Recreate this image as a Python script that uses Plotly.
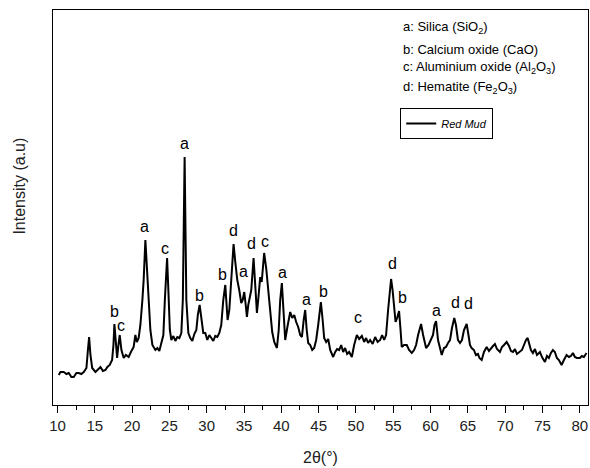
import plotly.graph_objects as go

# 2-theta positions (degrees)
two_theta = [10.17, 10.4, 10.84, 11.2, 11.51, 11.87, 12.18, 12.54, 12.85, 13.2, 13.52, 13.88, 14.08, 14.24, 14.42, 14.65,
             15.09, 15.42, 15.76, 16.09, 16.43, 16.69, 17.0, 17.32, 17.5, 17.63, 17.8, 17.99, 18.17, 18.34, 18.57, 18.88,
             19.17, 19.54, 19.84, 20.21, 20.44, 20.64, 20.88, 21.11, 21.38, 21.55, 21.78, 21.98, 22.18, 22.45, 22.72,
             23.12, 23.39, 23.65, 23.92, 24.19, 24.39, 24.69, 24.86, 25.06, 25.26, 25.53, 25.8, 26.06, 26.33, 26.6,
             26.8, 27.04, 27.27, 27.54, 27.8, 28.07, 28.34, 28.61, 28.81, 29.05, 29.28, 29.54, 29.81, 30.08, 30.35,
             30.62, 30.88, 31.15, 31.42, 31.69, 31.95, 32.22, 32.49, 32.62, 32.8, 33.03, 33.29, 33.6, 33.83, 34.1,
             34.36, 34.63, 34.83, 35.03, 35.23, 35.39, 35.57, 35.77, 35.97, 36.28, 36.5, 36.73, 36.9, 37.17, 37.37,
             37.7, 37.97, 38.24, 38.51, 38.78, 39.05, 39.41, 39.65, 39.85, 40.07, 40.25, 40.52, 40.79, 40.99, 41.19,
             41.46, 41.73, 41.99, 42.26, 42.53, 42.76, 43.0, 43.2, 43.4, 43.6, 43.87, 44.14, 44.4, 44.67, 44.94, 45.3,
             45.54, 45.74, 46.01, 46.28, 46.55, 46.95, 47.22, 47.48, 47.75, 48.02, 48.29, 48.55, 48.82, 49.09, 49.45,
             49.76, 50.12, 50.43, 50.79, 51.1, 51.36, 51.63, 51.9, 52.24, 52.57, 52.91, 53.24, 53.51, 53.78, 54.04,
             54.31, 54.51, 54.71, 54.91, 55.11, 55.31, 55.52, 55.78, 55.98, 56.14, 56.45, 56.81, 57.12, 57.48, 57.79,
             58.06, 58.33, 58.73, 59.0, 59.4, 59.73, 60.07, 60.33, 60.53, 60.74, 61.0, 61.27, 61.5, 61.8, 62.07, 62.34,
             62.61, 62.87, 63.18, 63.4, 63.67, 63.94, 64.21, 64.48, 64.84, 65.08, 65.28, 65.5, 65.81, 66.08, 66.35,
             66.55, 66.85, 67.16, 67.52, 67.83, 68.1, 68.37, 68.63, 68.9, 69.3, 69.57, 69.84, 70.2, 70.51, 70.78,
             71.05, 71.31, 71.58, 71.98, 72.25, 72.52, 72.79, 73.01, 73.25, 73.45, 73.72, 73.99, 74.26, 74.66, 74.93,
             75.33, 75.6, 75.86, 76.13, 76.4, 76.66, 76.93, 77.2, 77.56, 77.87, 78.23, 78.54, 78.81, 79.08, 79.34,
             79.61, 80.01, 80.28, 80.55, 80.9]

# Intensity (arbitrary units)
intensity = [30, 33, 33, 31, 32, 28, 28, 32, 32, 31, 33, 37, 55, 68, 50, 37,
             33, 36, 38, 34, 35, 38, 40, 45, 60, 81, 60, 47, 60, 70, 55, 47,
             50, 48, 53, 58, 70, 63, 67, 80, 105, 125, 165, 140, 105, 75, 60,
             55, 57, 54, 62, 70, 105, 147, 115, 75, 65, 69, 64, 68, 67, 72,
             105, 248, 105, 72, 67, 64, 71, 75, 90, 100, 87, 72, 72, 65, 70,
             67, 64, 69, 68, 72, 80, 105, 120, 105, 85, 95, 130, 161, 143, 125,
             115, 102, 105, 113, 100, 88, 100, 110, 115, 147, 115, 92, 105, 128, 123,
             152, 137, 115, 92, 73, 63, 57, 75, 105, 122, 100, 65, 77, 87, 93,
             87, 90, 83, 78, 70, 68, 85, 95, 75, 62, 60, 55, 57, 65, 80, 103,
             85, 67, 63, 66, 55, 48, 53, 56, 55, 60, 53, 57, 51, 53, 48,
             60, 70, 66, 69, 63, 67, 62, 65, 61, 68, 63, 65, 70, 65, 70,
             95, 115, 126, 115, 95, 83, 87, 94, 75, 58, 60, 60, 55, 52, 55,
             60, 70, 81, 70, 57, 60, 65, 70, 80, 84, 65, 55, 50, 57, 58, 62,
             65, 77, 87, 80, 65, 62, 65, 75, 81, 70, 60, 57, 55, 50, 51,
             47, 45, 53, 58, 54, 57, 59, 61, 56, 53, 58, 60, 63, 59, 54,
             53, 56, 51, 53, 55, 60, 65, 67, 60, 55, 52, 56, 50, 53, 48,
             43, 49, 47, 52, 55, 53, 47, 45, 40, 45, 50, 48, 49, 52, 48,
             47, 47, 49, 48, 52]

# Phase labels on peaks
peak_letters = ["a", "a", "c", "b", "c", "b", "b", "d", "a", "d", "c", "a", "a", "b", "c", "d", "b", "a", "d", "d"]
peak_theta = [27.0, 21.65, 24.46, 17.63, 18.57, 29.0, 32.05, 33.56, 34.9, 36.0, 37.84, 40.16, 43.33, 45.6,
              50.3, 54.94, 56.28, 60.74, 63.28, 65.15]
peak_label_y = [262, 179, 157, 94, 80, 110, 131, 175, 134, 162, 164, 133, 106, 114, 88, 142, 108, 95, 103, 102]

phase_key = ["a: Silica (SiO<sub>2</sub>)",
             "b: Calcium oxide (CaO)",
             "c: Aluminium oxide (Al<sub>2</sub>O<sub>3</sub>)",
             "d: Hematite (Fe<sub>2</sub>O<sub>3</sub>)"]

x_ticks = list(range(10, 81, 5))

FONT = "Liberation Sans, Arial, sans-serif"

fig = go.Figure()
fig.add_trace(go.Scatter(x=two_theta, y=intensity, mode="lines",
                         line=dict(color="black", width=2),
                         name="<i>Red Mud</i>", showlegend=True))

for letter, tx, ty in zip(peak_letters, peak_theta, peak_label_y):
    fig.add_annotation(x=tx, y=ty, xref="x", yref="y", text=letter, showarrow=False,
                       font=dict(family=FONT, size=16, color="black"),
                       xanchor="center", yanchor="middle")

key_y = [0.955, 0.90, 0.855, 0.805]
for txt, ky in zip(phase_key, key_y):
    fig.add_annotation(x=0.651, y=ky, xref="paper", yref="paper", text=txt, showarrow=False,
                       font=dict(family=FONT, size=13, color="black"),
                       xanchor="left", yanchor="middle")

fig.add_annotation(x=-0.062, y=0.555, xref="paper", yref="paper", text="Intensity (a.u)",
                   textangle=-90, showarrow=False,
                   font=dict(family=FONT, size=16, color="#222"),
                   xanchor="center", yanchor="middle")

fig.update_layout(
    width=590, height=468,
    margin=dict(l=53, r=2, t=10, b=63),
    plot_bgcolor="white", paper_bgcolor="white",
    font=dict(family=FONT, color="#222"),
    showlegend=True,
    legend=dict(x=0.649, y=0.752, xanchor="left", yanchor="top",
                bordercolor="black", borderwidth=1, bgcolor="white",
                font=dict(family=FONT, size=11, color="black"),
                itemwidth=30, tracegroupgap=0),
    xaxis=dict(range=[9.4, 81.1], tickvals=x_ticks, ticks="outside", ticklen=7, tickwidth=1,
               tickcolor="black", showline=True, linecolor="black", linewidth=1, mirror=True,
               showgrid=False, zeroline=False,
               tickfont=dict(family=FONT, size=15, color="#222"),
               minor=dict(dtick=2.5, ticks="outside", ticklen=4, tickcolor="black", showgrid=False),
               title=dict(text="2θ(°)", font=dict(family=FONT, size=16, color="#222"), standoff=18)),
    yaxis=dict(range=[0, 395], showticklabels=False, ticks="", showline=True, linecolor="black",
               linewidth=1, mirror=True, showgrid=False, zeroline=False),
)

fig.write_html("out.html")
